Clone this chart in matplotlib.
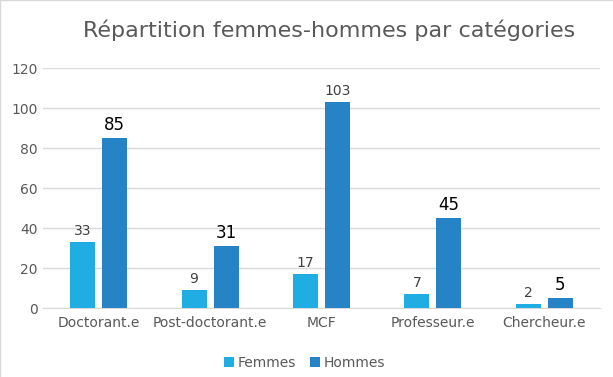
import numpy as np
import matplotlib
matplotlib.use("Agg")
import matplotlib.pyplot as plt
from matplotlib.lines import Line2D

# Données
categories = ["Doctorant.e", "Post-doctorant.e", "MCF", "Professeur.e", "Chercheur.e"]
femmes = [33, 9, 17, 7, 2]
hommes = [85, 31, 103, 45, 5]

c_femmes = "#1FADE4"
c_hommes = "#2683C6"
gris = "#595959"

fig = plt.figure(figsize=(6.13, 3.77), dpi=100)
ax = fig.add_axes([43 / 613, 1 - 308 / 377, 557 / 613, 240 / 377])

x = np.arange(len(categories))
w = 0.225
off = 0.144
b1 = ax.bar(x - off, femmes, w, color=c_femmes, label="Femmes", zorder=3)
b2 = ax.bar(x + off, hommes, w, color=c_hommes, label="Hommes", zorder=3)

# étiquettes de valeurs
for rect, v in zip(b1, femmes):
    ax.annotate(str(v), (rect.get_x() + rect.get_width() / 2, v), xytext=(0, 3),
                textcoords="offset points", ha="center", va="bottom",
                fontsize=10, color="#404040")
for rect, v in zip(b2, hommes):
    big = v != 103
    ax.annotate(str(v), (rect.get_x() + rect.get_width() / 2, v), xytext=(0, 3),
                textcoords="offset points", ha="center", va="bottom",
                fontsize=12 if big else 10, color="black" if big else "#404040")

ax.set_xlim(-0.5, len(categories) - 0.5)
ax.set_ylim(0, 120)
ax.set_yticks(range(0, 121, 20))
ax.set_xticks(x)
ax.set_xticklabels(categories)
ax.grid(axis="y", color="#D9D9D9", linewidth=1, zorder=0)
ax.tick_params(axis="both", length=0, labelsize=10, labelcolor=gris)
ax.tick_params(axis="y", pad=4)
ax.tick_params(axis="x", pad=6)
for s in ["top", "right", "left"]:
    ax.spines[s].set_visible(False)
ax.spines["bottom"].set_color("#D9D9D9")

fig.text(0.537, 1 - 30 / 377, "Répartition femmes-hommes par catégories",
         ha="center", va="center", fontsize=16, color=gris)

leg = fig.legend(handles=[b1, b2], loc="center", bbox_to_anchor=(0.497, 1 - 363 / 377),
                 ncol=2, frameon=False, fontsize=10, handlelength=0.7, handleheight=0.7,
                 handletextpad=0.3, columnspacing=1.0)
for t in leg.get_texts():
    t.set_color(gris)

# bordure gauche et haute
fig.add_artist(Line2D([0.0008, 0.0008], [0, 1], transform=fig.transFigure,
                      color="#D9D9D9", linewidth=1))
fig.add_artist(Line2D([0, 1], [0.9987, 0.9987], transform=fig.transFigure,
                      color="#D9D9D9", linewidth=1))

fig.savefig("out.png", dpi=100)
